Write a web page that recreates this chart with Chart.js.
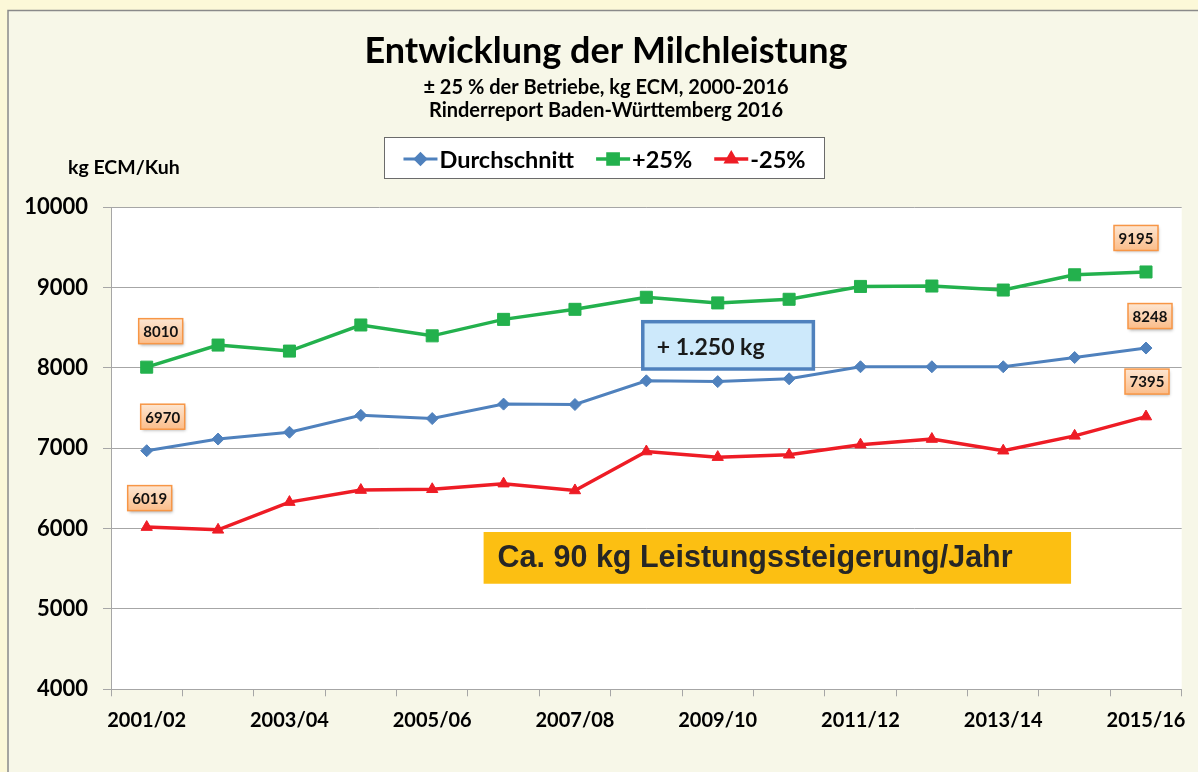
<!DOCTYPE html>
<html>
<head>
<meta charset="utf-8">
<script src="https://cdn.jsdelivr.net/npm/chart.js@4.4.1/dist/chart.umd.min.js"></script>
<style>
  html, body { margin: 0; padding: 0; background: #fcf8d8; }
  #wrap { width: 1198px; height: 772px; }
</style>
</head>
<body>
<div id="wrap"><canvas id="milk" width="1198" height="772"></canvas></div>
<script>
// Wirtschaftsjahre
const seasons = ["2001/02", "2002/03", "2003/04", "2004/05", "2005/06", "2006/07", "2007/08",
  "2008/09", "2009/10", "2010/11", "2011/12", "2012/13", "2013/14", "2014/15", "2015/16"];

// kg ECM je Kuh
const average = [6970, 7115, 7200, 7410, 7370, 7550, 7545, 7840, 7830, 7865, 8015, 8015, 8015, 8130, 8248];
const upper25 = [8010, 8285, 8210, 8535, 8400, 8605, 8730, 8880, 8810, 8855, 9015, 9020, 8970, 9160, 9195];
const lower25 = [6019, 5985, 6330, 6480, 6490, 6560, 6475, 6960, 6890, 6920, 7045, 7115, 6970, 7155, 7395];

const yMin = 4000, yMax = 10000, yStep = 1000;

const titleText = "Entwicklung der Milchleistung";
const subtitleLines = ["± 25 % der Betriebe, kg ECM, 2000-2016", "Rinderreport Baden-Württemberg 2016"];
const yTitle = "kg ECM/Kuh";
const gainNote = "+ 1.250 kg";
const yearNote = "Ca. 90 kg Leistungssteigerung/Jahr";

const FONT = "Lato, 'Open Sans', sans-serif";
const GRID = "#a6a6a6";

// value boxes at first and last point (dataset, index, offset of box centre)
const callouts = [
  { ds: 1, i: 0, dx: 14, dy: -36 },
  { ds: 0, i: 0, dx: 16, dy: -34 },
  { ds: 2, i: 0, dx: 3, dy: -29 },
  { ds: 1, i: 14, dx: -10, dy: -34 },
  { ds: 0, i: 14, dx: 4, dy: -32 },
  { ds: 2, i: 14, dx: 1, dy: -35 }
];

const backdrop = {
  id: "backdrop",
  beforeDraw(chart) {
    const { ctx, chartArea: a, width, height } = chart;
    ctx.save();
    ctx.fillStyle = "#fcf8d8";
    ctx.fillRect(0, 0, width, height);
    ctx.fillStyle = "#f7f7e8";
    ctx.fillRect(8, 11, width - 8, height - 11);
    ctx.strokeStyle = "#8a8a8a";
    ctx.lineWidth = 1.5;
    ctx.beginPath();
    ctx.moveTo(8, height);
    ctx.lineTo(8, 10.5);
    ctx.lineTo(width, 10.5);
    ctx.stroke();
    ctx.fillStyle = "#ffffff";
    ctx.fillRect(a.left, a.top, a.right - a.left, a.bottom - a.top);
    ctx.restore();
  }
};

const valueBoxes = {
  id: "valueBoxes",
  afterDatasetsDraw(chart) {
    const { ctx } = chart;
    ctx.save();
    callouts.forEach(c => {
      const pt = chart.getDatasetMeta(c.ds).data[c.i];
      const v = chart.data.datasets[c.ds].data[c.i];
      const w = 44, h = 25;
      const x = pt.x + c.dx - w / 2, y = pt.y + c.dy - h / 2;
      const g = ctx.createLinearGradient(0, y, 0, y + h);
      g.addColorStop(0, "#fde6d2");
      g.addColorStop(1, "#fbbd8a");
      ctx.shadowColor = "rgba(0,0,0,0.3)";
      ctx.shadowBlur = 3;
      ctx.shadowOffsetX = 1;
      ctx.shadowOffsetY = 2;
      ctx.fillStyle = g;
      ctx.fillRect(x, y, w, h);
      ctx.shadowColor = "transparent";
      ctx.strokeStyle = "#f79646";
      ctx.lineWidth = 1.5;
      ctx.strokeRect(x, y, w, h);
      ctx.fillStyle = "#111";
      ctx.font = "bold 15px " + FONT;
      ctx.textAlign = "center";
      ctx.textBaseline = "middle";
      ctx.fillText(String(v), x + w / 2, y + h / 2 + 1);
    });
    ctx.restore();
  }
};

const extras = {
  id: "extras",
  afterDraw(chart) {
    const { ctx, scales: { x, y } } = chart;
    ctx.save();

    // y axis title
    ctx.fillStyle = "#000";
    ctx.font = "bold 19.5px " + FONT;
    ctx.textAlign = "left";
    ctx.textBaseline = "middle";
    ctx.fillText(yTitle, 68, 168);

    // legend
    const lx0 = 384, lx1 = 825, ly0 = 137, ly1 = 179;
    ctx.fillStyle = "#fff";
    ctx.fillRect(lx0, ly0, lx1 - lx0, ly1 - ly0);
    ctx.strokeStyle = "#6b6b6b";
    ctx.lineWidth = 1;
    ctx.strokeRect(lx0 + 0.5, ly0 + 0.5, lx1 - lx0 - 1, ly1 - ly0 - 1);
    ctx.font = "bold 23.5px " + FONT;
    const seg = 34, gap = 22;
    const items = chart.data.datasets.map(d => ({ d, w: seg + 2 + ctx.measureText(d.label).width }));
    const total = items.reduce((s, it) => s + it.w, 0) + gap * (items.length - 1);
    let cx = (lx0 + lx1) / 2 - total / 2;
    const cy = 159;
    items.forEach(it => {
      const d = it.d;
      ctx.strokeStyle = d.borderColor;
      ctx.lineWidth = d.borderWidth;
      ctx.beginPath();
      ctx.moveTo(cx, cy);
      ctx.lineTo(cx + seg, cy);
      ctx.stroke();
      ctx.fillStyle = d.backgroundColor;
      Chart.helpers.drawPoint(ctx, { pointStyle: d.pointStyle, radius: d.pointRadius * 0.85, borderWidth: 1, rotation: 0 }, cx + seg / 2, cy);
      ctx.fillStyle = "#000";
      ctx.textBaseline = "middle";
      ctx.fillText(d.label, cx + seg + 2, cy + 1);
      cx += it.w + gap;
    });

    // + 1.250 kg box
    let bx0 = x.getPixelForValue(6.95), bx1 = x.getPixelForValue(9.34);
    let by0 = y.getPixelForValue(8576), by1 = y.getPixelForValue(7987);
    ctx.fillStyle = "#cde9fb";
    ctx.fillRect(bx0, by0, bx1 - bx0, by1 - by0);
    ctx.strokeStyle = "#4f81bd";
    ctx.lineWidth = 3.5;
    ctx.strokeRect(bx0, by0, bx1 - bx0, by1 - by0);
    ctx.fillStyle = "#1a1a1a";
    ctx.font = "bold 23px " + FONT;
    ctx.textBaseline = "middle";
    ctx.fillText(gainNote, bx0 + 14, (by0 + by1) / 2 + 2);

    // yearly increase box
    bx0 = x.getPixelForValue(4.72); bx1 = x.getPixelForValue(12.95);
    by0 = y.getPixelForValue(5958); by1 = y.getPixelForValue(5314);
    ctx.fillStyle = "#fcbf12";
    ctx.fillRect(bx0, by0, bx1 - bx0, by1 - by0);
    ctx.fillStyle = "#262626";
    ctx.font = "bold 31px 'Liberation Sans', Arial, sans-serif";
    ctx.fillText(yearNote, bx0 + 14, (by0 + by1) / 2 + 1, 515);

    ctx.restore();
  }
};

const ctx = document.getElementById("milk").getContext("2d");
new Chart(ctx, {
  type: "line",
  data: {
    labels: seasons,
    datasets: [
      {
        label: "Durchschnitt",
        data: average,
        borderColor: "#4f81bd",
        backgroundColor: "#4f81bd",
        borderWidth: 3,
        pointStyle: "rectRot",
        pointRadius: 6,
        pointBorderWidth: 1,
        tension: 0
      },
      {
        label: "+25%",
        data: upper25,
        borderColor: "#23b14d",
        backgroundColor: "#23b14d",
        borderWidth: 3.5,
        pointStyle: "rect",
        pointRadius: 8.5,
        pointBorderWidth: 1,
        tension: 0
      },
      {
        label: "-25%",
        data: lower25,
        borderColor: "#ee1c25",
        backgroundColor: "#ee1c25",
        borderWidth: 3.5,
        pointStyle: "triangle",
        pointRadius: 6.5,
        pointBorderWidth: 1,
        tension: 0
      }
    ]
  },
  options: {
    responsive: false,
    animation: false,
    // left padding + y axis = 111 px, empty right axis = 16 px; keeps titles centred like the original
    layout: { padding: { left: 14, right: 0, top: 0, bottom: 0 } },
    plugins: {
      legend: { display: false },
      tooltip: { enabled: false },
      title: {
        display: true,
        text: titleText,
        color: "#000",
        font: { family: FONT, size: 36, weight: "bold", lineHeight: 1.2 },
        padding: { top: 29.9, bottom: 2.85 }
      },
      subtitle: {
        display: true,
        text: subtitleLines,
        color: "#000",
        font: { family: FONT, size: 20, weight: "bold", lineHeight: 1.165 },
        padding: { top: 0, bottom: 84.75 }
      }
    },
    scales: {
      x: {
        offset: true,
        grid: { drawOnChartArea: false, tickLength: 7, color: GRID, offset: true },
        border: { color: GRID },
        ticks: {
          autoSkip: false,
          maxRotation: 0,
          padding: 12,
          color: "#000",
          font: { family: FONT, size: 20, weight: "bold" },
          callback: (v, i) => (i % 2 === 0 ? seasons[i] : "")
        },
        afterFit: s => { s.height = 82.7; }
      },
      y: {
        min: yMin,
        max: yMax,
        grid: { color: GRID, tickLength: 8 },
        border: { color: GRID },
        ticks: {
          stepSize: yStep,
          padding: 15,
          color: "#000",
          font: { family: FONT, size: 22, weight: "bold" },
          callback: v => String(v)
        },
        afterFit: s => { s.width = 97; }
      },
      spacer: {
        position: "right",
        grid: { display: false },
        border: { display: false },
        ticks: { display: false },
        afterFit: s => { s.width = 16; }
      }
    }
  },
  plugins: [backdrop, valueBoxes, extras]
});
</script>
</body>
</html>
